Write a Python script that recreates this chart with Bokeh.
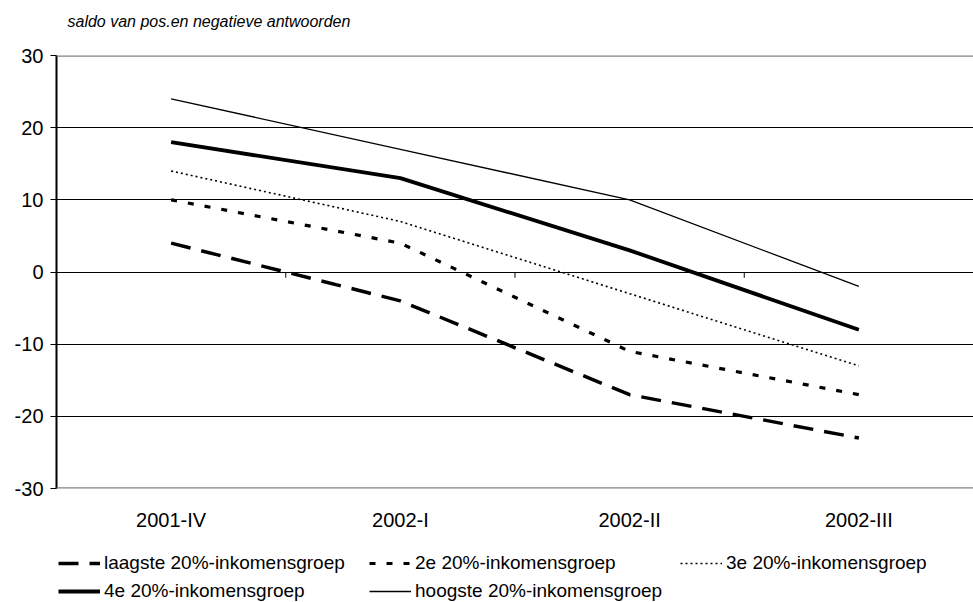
from bokeh.plotting import figure
from bokeh.layouts import column
from bokeh.models import (Range1d, FixedTicker, Span, Legend, LegendItem, Label)
from bokeh.embed import file_html
from bokeh.resources import INLINE

# ---- data ----
categories = ["2001-IV", "2002-I", "2002-II", "2002-III"]
laagste = [4, -4, -17, -23]
tweede = [10, 4, -11, -17]
derde = [14, 7, -3, -13]
vierde = [18, 13, 3, -8]
hoogste = [24, 17, 10, -2]
y_ticks = [-30, -20, -10, 0, 10, 20, 30]
y_tick_labels = ["-30", "-20", "-10", "0", "10", "20", "30"]
series_names = ["laagste 20%-inkomensgroep", "2e 20%-inkomensgroep",
                "3e 20%-inkomensgroep", "4e 20%-inkomensgroep",
                "hoogste 20%-inkomensgroep"]
title_text = "saldo van pos.en negatieve antwoorden"

FONT = "Liberation Sans"
W = 973
n = len(categories)
xs = [i + 0.5 for i in range(n)]

def blank(height, yr):
    f = figure(width=W, height=height, output_backend="svg",
               toolbar_location=None, x_axis_type=None, y_axis_type=None,
               x_range=Range1d(0, n), y_range=yr,
               min_border_left=56, min_border_right=0, min_border_top=0,
               min_border_bottom=0)
    f.outline_line_color = None
    f.grid.visible = False
    f.background_fill_color = "white"
    f.border_fill_color = "white"
    return f

# ---- title strip ----
pt = blank(40, Range1d(0, 1))
pt.add_layout(Label(x=11, y=19, x_units="screen", y_units="screen",
                    text=title_text, text_font=FONT, text_font_size="16px",
                    text_font_style="italic", text_color="black",
                    text_baseline="middle", text_align="left"))

# ---- chart ----
p = figure(width=W, height=506, output_backend="svg", toolbar_location=None,
           x_range=Range1d(0, n), y_range=Range1d(y_ticks[0], y_ticks[-1]),
           min_border_left=56, min_border_right=0, min_border_top=15,
           min_border_bottom=58)
p.outline_line_color = None
p.background_fill_color = "white"
p.border_fill_color = "white"

ya = p.yaxis[0]
ya.ticker = FixedTicker(ticks=y_ticks)
ya.major_label_overrides = {t: s for t, s in zip(y_ticks, y_tick_labels)}
ya.axis_line_color = "black"
ya.axis_line_width = 2
ya.major_tick_out = 6
ya.major_tick_in = 0
ya.minor_tick_out = 0
ya.minor_tick_in = 0
ya.major_tick_line_color = "black"
ya.major_label_standoff = 7
ya.major_label_text_font = FONT
ya.major_label_text_font_size = "20px"
ya.major_label_text_color = "black"

xa = p.xaxis[0]
xa.ticker = FixedTicker(ticks=xs)
xa.major_label_overrides = {x: c for x, c in zip(xs, categories)}
xa.axis_line_color = None
xa.major_tick_line_color = None
xa.minor_tick_line_color = None
xa.major_tick_out = 0
xa.major_label_standoff = 20
xa.major_label_text_font = FONT
xa.major_label_text_font_size = "20px"
xa.major_label_text_color = "black"

p.xgrid.visible = False
p.ygrid.ticker = FixedTicker(ticks=y_ticks[1:-1])
p.ygrid.grid_line_color = "black"
p.ygrid.grid_line_width = 1.2

for yv in (y_ticks[0], y_ticks[-1]):
    p.add_layout(Span(location=yv, dimension="width", line_color="#808080",
                      line_width=2.5))

sep = list(range(0, n + 1))
p.segment(x0=sep, y0=[0] * len(sep), x1=sep, y1=[-0.8] * len(sep),
          line_color="black", line_width=1)

styles = [
    dict(line_width=3.5, line_dash="20 11"),
    dict(line_width=3.2, line_dash="6 11"),
    dict(line_width=1.6, line_dash="2 3"),
    dict(line_width=3.8),
    dict(line_width=1.3),
]
data = [laagste, tweede, derde, vierde, hoogste]
for vals, st in zip(data, styles):
    p.line(xs, vals, line_color="black", line_cap="butt",
           line_join="round", **st)

# ---- legend strip (series drawn out of view; only their keys show) ----
pl = blank(56, Range1d(1000, 1001))
key_renderers = [pl.line(xs, vals, line_color="black", line_cap="butt", **st)
                 for vals, st in zip(data, styles)]

def make_legend(idx, y):
    items = [LegendItem(label=series_names[i], renderers=[key_renderers[i]])
             for i in idx]
    lg = Legend(items=items, orientation="horizontal", location=(2, y),
                glyph_width=42, glyph_height=22, label_standoff=4,
                label_width=261, label_height=22, spacing=4, padding=0,
                margin=0, border_line_color=None, background_fill_alpha=0,
                label_text_font=FONT, label_text_font_size="19px",
                label_text_color="black")
    pl.add_layout(lg, "center")

make_legend([0, 1, 2], 28)
make_legend([3, 4], 0)

layout = column(pt, p, pl, spacing=0)
open("out.html", "w").write(file_html(layout, INLINE))
